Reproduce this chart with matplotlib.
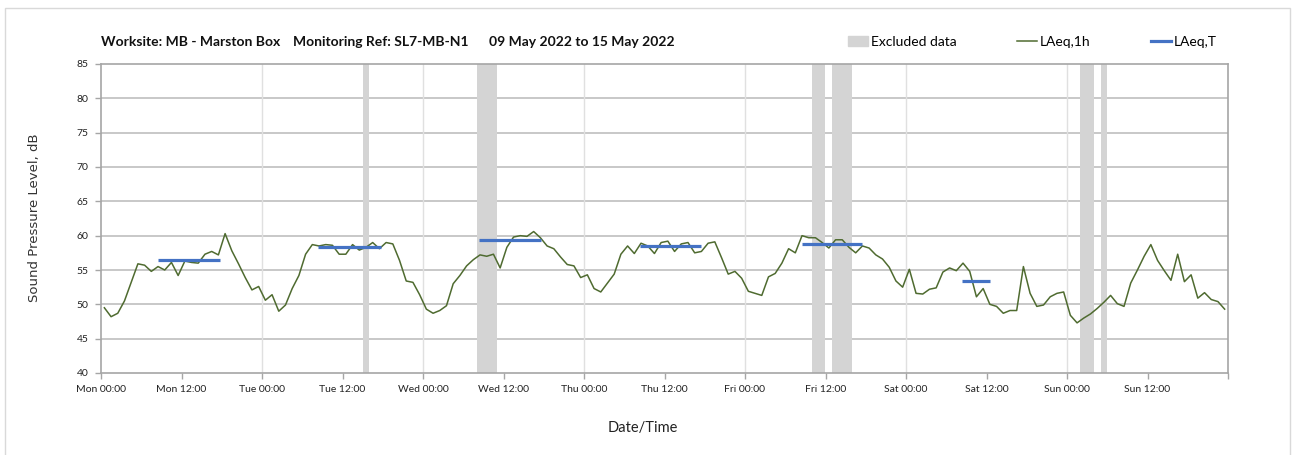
import matplotlib
matplotlib.use("Agg")
import matplotlib.pyplot as plt
from matplotlib.patches import Rectangle
from matplotlib.lines import Line2D

# hourly LAeq,1h values, Mon 00:00 -> Sun 23:00 (plotted at mid-hour)
laeq_1h = [
    49.5, 48.2, 48.7, 50.5, 53.2, 55.9, 55.7, 54.8, 55.5, 55.0, 56.1, 54.2,
    56.3, 56.1, 56.0, 57.3, 57.7, 57.2, 60.3, 57.8, 55.9, 53.9, 52.1, 52.6,
    50.6, 51.4, 49.0, 49.9, 52.3, 54.2, 57.3, 58.7, 58.5, 58.7, 58.6, 57.3,
    57.3, 58.7, 57.9, 58.3, 59.0, 58.1, 59.0, 58.8, 56.4, 53.4, 53.2, 51.4,
    49.3, 48.7, 49.1, 49.8, 53.0, 54.2, 55.6, 56.5, 57.2, 57.0, 57.3, 55.3,
    58.3, 59.8, 60.0, 59.9, 60.6, 59.7, 58.5, 58.1, 56.9, 55.8, 55.6, 53.9,
    54.3, 52.3, 51.8, 53.1, 54.4, 57.3, 58.5, 57.4, 58.9, 58.5, 57.4, 59.0,
    59.2, 57.7, 58.8, 59.0, 57.5, 57.7, 58.9, 59.1, 56.8, 54.4, 54.8, 53.8,
    51.9, 51.6, 51.3, 54.0, 54.5, 56.0, 58.1, 57.5, 60.0, 59.7, 59.7, 59.0,
    58.2, 59.4, 59.4, 58.3, 57.5, 58.5, 58.2, 57.2, 56.6, 55.4, 53.4, 52.5,
    55.1, 51.6, 51.5, 52.2, 52.4, 54.7, 55.3, 54.9, 56.0, 54.8, 51.1, 52.3,
    50.0, 49.7, 48.7, 49.1, 49.1, 55.5, 51.6, 49.7, 49.9, 51.1, 51.6, 51.8,
    48.4, 47.3, 48.0, 48.6, 49.4, 50.3, 51.3, 50.1, 49.7, 53.1, 55.0, 57.0,
    58.7, 56.4, 54.9, 53.5, 57.3, 53.3, 54.3, 50.9, 51.7, 50.7, 50.4, 49.3,
]
hours = [h + 0.5 for h in range(len(laeq_1h))]

# LAeq,T periods (hours from Mon 00:00)
lt_start = [8.5, 32.4, 56.4, 80.4, 104.5, 128.3]
lt_end = [17.7, 41.8, 65.6, 89.5, 113.5, 132.5]
lt_val = [56.4, 58.4, 59.3, 58.5, 58.8, 53.4]

# excluded data periods
ex_start = [39, 56, 106, 109, 146, 149]
ex_end = [40, 59, 108, 112, 148, 150]

days = ["Mon", "Tue", "Wed", "Thu", "Fri", "Sat", "Sun"]
tick_labels = []
for d in days:
    tick_labels += [d + " 00:00", d + " 12:00"]
tick_labels.append("")

W, H = 1295, 455
fig = plt.figure(figsize=(W / 100, H / 100), dpi=100)
ax = fig.add_axes([101 / W, 1 - 373 / H, (1228 - 101) / W, (373 - 64) / H])

# outer frame of the chart object
fig.patches.append(Rectangle((5 / W, -0.1), (1290 - 5) / W, 1.1 - 8 / H,
                             transform=fig.transFigure, fill=False,
                             edgecolor="#d9d9d9", lw=1.0))

for s, e in zip(ex_start, ex_end):
    ax.axvspan(s, e, color="#d4d4d4", lw=0, zorder=1.5)

ax.plot(hours, laeq_1h, color="#4f6b30", lw=1.1, zorder=3)
for s, e, v in zip(lt_start, lt_end, lt_val):
    ax.plot([s, e], [v, v], color="#4472c4", lw=2.3, solid_capstyle="butt", zorder=4)

ax.set_xlim(0, 168)
ax.set_ylim(40, 85)
ax.set_yticks(range(40, 90, 5))
ax.set_xticks(range(0, 169, 12))
ax.set_xticklabels(tick_labels)

for y in range(45, 85, 5):
    ax.axhline(y, color="#c4c4c4", lw=1.3, zorder=1)
for x in range(24, 168, 24):
    ax.axvline(x, color="#e0e0e0", lw=1.0, zorder=1)

for sp in ax.spines.values():
    sp.set_color("#a6a6a6")
    sp.set_linewidth(1.2)
ax.tick_params(direction="out", length=4, width=1, color="#a6a6a6",
               labelsize=7.5, labelcolor="#222222", pad=5)
for lab in ax.get_xticklabels() + ax.get_yticklabels():
    lab.set_family("Lato")

fig.text(35 / W, 1 - 218 / H, "Sound Pressure Level, dB", rotation=90,
         ha="center", va="center", fontsize=9.5, family="DejaVu Sans", color="#333333")
fig.text(643 / W, 1 - 428 / H, "Date/Time", ha="center", va="center",
         fontsize=10.5, family="Lato", color="#222222")

title_parts = ["Worksite: MB - Marston Box", "Monitoring Ref: SL7-MB-N1",
               "09 May 2022 to 15 May 2022"]
title_x = [101, 293, 489]
for t, x in zip(title_parts, title_x):
    fig.text(x / W, 1 - 42 / H, t, ha="left", va="center", fontsize=10,
             family="Lato", weight="bold", color="#111111")

handles = [Rectangle((0, 0), 1, 1, color="#d4d4d4"),
           Line2D([], [], color="#4f6b30", lw=1.1),
           Line2D([], [], color="#4472c4", lw=2.3)]
fig.legend(handles, ["Excluded data", "LAeq,1h", "LAeq,T"], loc="center left",
           bbox_to_anchor=(848 / W, 1 - 42 / H), ncol=3, frameon=False,
           prop={"family": "Lato", "size": 10}, handlelength=1.45,
           handleheight=0.7, handletextpad=0.2, columnspacing=4.35,
           borderpad=0, borderaxespad=0)

fig.savefig("out.png", dpi=100)
